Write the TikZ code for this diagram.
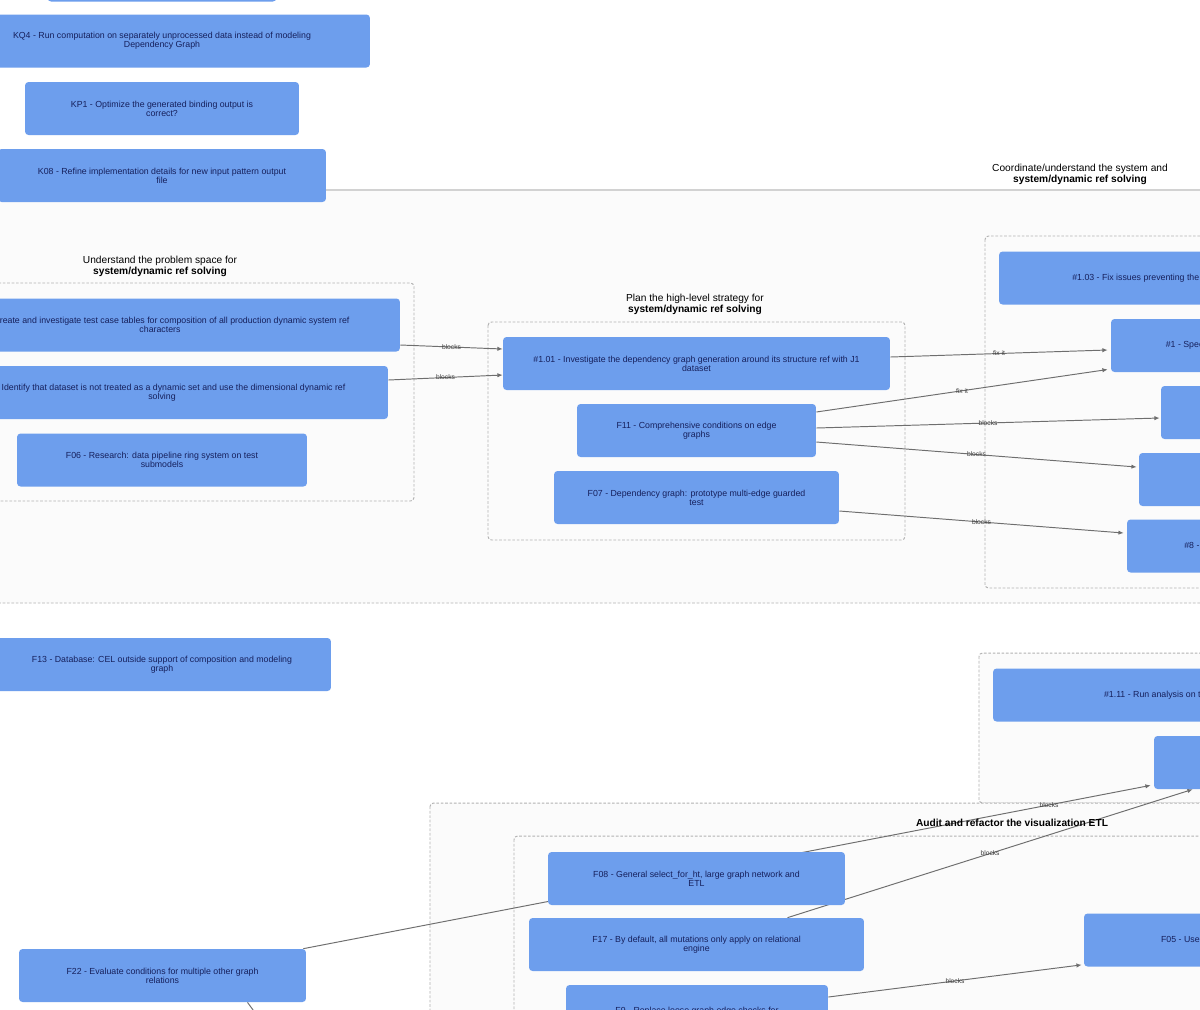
\documentclass[tikz,border=0pt]{standalone}
\usepackage{fontspec}
\setmainfont{Liberation Sans}
\usetikzlibrary{arrows.meta,backgrounds}
\definecolor{taskblue}{RGB}{109,158,237}
\definecolor{tasktext}{RGB}{22,32,92}
\definecolor{groupgray}{RGB}{251,251,251}
\definecolor{edgegray}{RGB}{110,110,110}

\begin{document}
\begin{tikzpicture}[x=0.02cm,y=-0.02cm,
  task/.style={fill=taskblue,rounded corners=2pt,text=tasktext,font=\fontsize{5}{5.2}\selectfont,align=center,inner sep=0pt,minimum height=1.06cm},
  group/.style={draw=gray!60,fill=groupgray,dash pattern=on 1.5pt off 1pt,rounded corners=2pt,line width=0.55pt},
  grouplabel/.style={font=\fontsize{5.8}{6.2}\selectfont,align=center,inner sep=0pt},
  link/.style={draw=edgegray,line width=0.55pt,-{Latex[length=3pt,width=2.5pt]}},
  elabel/.style={font=\fontsize{3.8}{4}\selectfont,text=black!75,inner sep=0.5pt}]
% Page frame
\useasboundingbox (0,0) rectangle (1200,1009);

% Groups (behind everything)
\begin{scope}[on background layer]
\fill[white] (0,0) rectangle (1200,1009);
\draw[group] (-20,190) rectangle (1420,603);
\draw[gray!35,line width=1pt] (-20,190) -- (1420,190);
\draw[group] (-94,283) rectangle (414,501);
\draw[group] (488,322) rectangle (905,540);
\draw[group] (985,236) rectangle (1430,588);
\draw[group] (979,653) rectangle (1430,803);
\draw[group] (430,803) rectangle (1600,1100);
\draw[group] (514,836) rectangle (1510,1100);
\end{scope}

% Group labels
\node[grouplabel] (lblsystem) at (1080,174) {Coordinate/understand the system and\\\textbf{system/dynamic ref solving}};
\node[grouplabel] (lblproblem) at (160,266) {Understand the problem space for\\\textbf{system/dynamic ref solving}};
\node[grouplabel] (lblplan) at (695,304) {Plan the high-level strategy for\\\textbf{system/dynamic ref solving}};
\node[grouplabel] (lblaudit) at (1012,823) {\textbf{Audit and refactor the visualization ETL}};

% Top column
\node[task,minimum width=4.58cm] (ktop) at (162,-25) {};
\node[task,minimum width=8.32cm] (kq4) at (162,41) {KQ4 - Run computation on separately unprocessed data instead of modeling\\Dependency Graph};
\node[task,minimum width=5.48cm] (kp1) at (162,108.5) {KP1 - Optimize the generated binding output is\\correct?};
\node[task,minimum width=6.56cm] (k08) at (162,175.5) {K08 - Refine implementation details for new input pattern output\\file};

% Problem space
\node[task,minimum width=9.6cm] (f02) at (160,325) {F02 - Create and investigate test case tables for composition of all production dynamic system ref\\characters};
\node[task,minimum width=9.04cm] (f03) at (162,392.5) {F03 - Identify that dataset is not treated as a dynamic set and use the dimensional dynamic ref\\solving};
\node[task,minimum width=5.8cm] (f06) at (162,460) {F06 - Research: data pipeline ring system on test\\submodels};

% Strategy
\node[task,minimum width=7.74cm] (s101) at (696.5,363.5) {\#1.01 - Investigate the dependency graph generation around its structure ref with J1\\dataset};
\node[task,minimum width=4.78cm] (f11) at (696.5,430.5) {F11 - Comprehensive conditions on edge\\graphs};
\node[task,minimum width=5.7cm] (f07) at (696.5,497.5) {F07 - Dependency graph: prototype multi-edge guarded\\test};

% System solving
\node[task,minimum width=8.42cm] (s103) at (1209.5,278) {\#1.03 - Fix issues preventing the new runtime from resolving the graph};
\node[task,minimum width=4.38cm] (s1) at (1220.5,345.5) {\#1 - Specify the edge model};
\node[task,minimum width=3.38cm] (s2) at (1245.5,412.5) {\#2 - Edge rules};
\node[task,minimum width=3.82cm] (s4) at (1234.5,479.5) {\#4 - Trace paths};
\node[task,minimum width=4.06cm] (s8) at (1228.5,546) {\#8 - Sub-graph checks};

% Lower part
\node[task,minimum width=6.76cm] (f13) at (162,664.5) {F13 - Database: CEL outside support of composition and modeling\\graph};
\node[task,minimum width=8.54cm] (s111) at (1206.5,695) {\#1.11 - Run analysis on the full graph in the test data};
\node[task,minimum width=3.52cm] (f1) at (1242,762.5) {F1 - Graph};
\node[task,minimum width=5.94cm] (f08) at (696.5,878.5) {F08 - General select\_for\_ht, large graph network and\\ETL};
\node[task,minimum width=6.7cm] (f17) at (696.5,944.5) {F17 - By default, all mutations only apply on relational\\engine};
\node[task,minimum width=5.24cm] (f09) at (697,1011.5) {F9 - Replace loose graph edge checks for};
\node[task,minimum width=4.92cm] (f05) at (1207,940) {F05 - Use built-in graph};
\node[task,minimum width=5.74cm] (f22) at (162.5,975.5) {F22 - Evaluate conditions for multiple other graph\\relations};
\coordinate (below) at (275,1040);

% Connectors (under the nodes)
\begin{scope}[on background layer]
\draw[link] ([shift={(0,20)}]f02.east) -- node[elabel] {blocks} ([shift={(0,-14.5)}]s101.west);
\draw[link] ([shift={(0,-12.5)}]f03.east) -- node[elabel] {blocks} ([shift={(0,11.5)}]s101.west);
\draw[link] ([shift={(0,-6.5)}]s101.east) -- node[elabel] {fix it} ([shift={(-3,4.5)}]s1.west);
\draw[link] ([shift={(0,-18.5)}]f11.east) -- node[elabel] {fix it} ([shift={(-3,24)}]s1.west);
\draw[link] ([shift={(0,-2.5)}]f11.east) -- node[elabel] {blocks} ([shift={(-1,5.5)}]s2.west);
\draw[link] ([shift={(0,11.5)}]f11.east) -- node[elabel] {blocks} ([shift={(-2,-12.5)}]s4.west);
\draw[link] ([shift={(0,13.5)}]f07.east) -- node[elabel] {blocks} ([shift={(-3,-13)}]s8.west);
\draw[link] ([shift={(-3,0)}]f22.north east) -- node[elabel,pos=0.88] {blocks} ([shift={(-3,-4)}]f1.south west);
\draw[link] ([shift={(91,0)}]f17.north) -- node[elabel] {blocks} ([shift={(39,0)}]f1.south west);
\draw[link] ([shift={(0,-14.5)}]f09.east) -- node[elabel] {blocks} ([shift={(-2,-2)}]f05.south west);
\draw[link] ([shift={(85,0)}]f22.south) -- (below);
\end{scope}
\end{tikzpicture}
\end{document}
